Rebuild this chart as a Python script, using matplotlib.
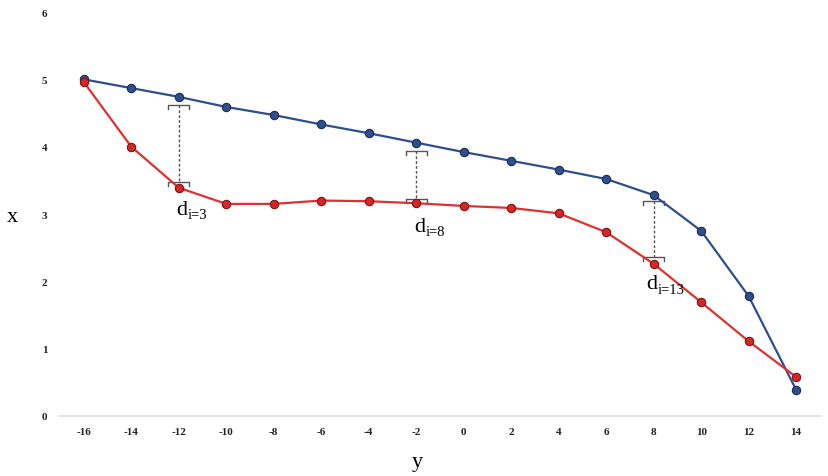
import matplotlib
matplotlib.use("Agg")
import matplotlib.pyplot as plt

y_vals = [-16, -14, -12, -10, -8, -6, -4, -2, 0, 2, 4, 6, 8, 10, 12, 14]
blue = [5.00, 4.87, 4.74, 4.59, 4.47, 4.33, 4.20, 4.06, 3.92, 3.79, 3.66, 3.52, 3.28, 2.75, 1.78, 0.39]
red = [4.96, 4.00, 3.39, 3.15, 3.15, 3.20, 3.19, 3.16, 3.12, 3.09, 3.01, 2.73, 2.26, 1.69, 1.11, 0.58]
yticks = [0, 1, 2, 3, 4, 5, 6]

# distance annotations
d_pos = [-12, -2, 8]
d_top = [4.62, 3.94, 3.19]
d_bot = [3.48, 3.22, 2.36]
d_subs = ['i=3', 'i=8', 'i=13']
d_lx = [-12.1, -2.1, 7.7]
d_ly = [3.00, 2.75, 1.90]

fig = plt.figure(figsize=(8.29, 4.77), dpi=100)
ax = fig.add_axes([0.0724, 0.1258, 0.9166, 0.8469])

ax.plot(y_vals, blue, color='#2E4E8E', lw=1.6, marker='o', markersize=6,
        markerfacecolor='#2E4E8E', markeredgecolor='#1B2B55', markeredgewidth=0.8, zorder=3)
ax.plot(y_vals, red, color='#E03030', lw=1.6, marker='o', markersize=6,
        markerfacecolor='#D82626', markeredgecolor='#7A1414', markeredgewidth=0.8, zorder=3)

hw = 0.44
tk = 0.06
for p, t, b, sub, lx, ly in zip(d_pos, d_top, d_bot, d_subs, d_lx, d_ly):
    ax.plot([p, p], [t, b], color='#555555', lw=1.0, linestyle=(0, (2, 1.5)), zorder=2)
    for yy in (t, b):
        ax.plot([p - hw, p - hw, p + hw, p + hw], [yy - tk, yy, yy, yy - tk],
                color='#555555', lw=1.0, zorder=2)
    ax.text(lx, ly, 'd', family='Liberation Serif', fontsize=16, color='black',
            ha='left', va='baseline')
    ax.annotate(sub, (lx, ly), xytext=(8.2, -3.2), textcoords='offset points',
                family='Liberation Serif', fontsize=10.5, color='black',
                ha='left', va='baseline')

ax.set_xlim(-17, 15)
ax.set_ylim(0, 6)
ax.set_xticks(y_vals)
ax.set_xticklabels([str(v) for v in y_vals])
ax.set_yticks(yticks)
ax.set_yticklabels([str(v) for v in yticks])
for lab in ax.get_xticklabels() + ax.get_yticklabels():
    lab.set_family('Liberation Serif')
    lab.set_fontsize(8)
    lab.set_weight('bold')
    lab.set_color('#222222')
ax.tick_params(axis='both', length=0)
ax.tick_params(axis='x', pad=8)
ax.tick_params(axis='y', pad=9)

for s in ['top', 'right', 'left']:
    ax.spines[s].set_visible(False)
ax.spines['bottom'].set_color('#DDDDDD')
ax.spines['bottom'].set_linewidth(1.2)

fig.text(12 / 829, 1 - 217 / 477, 'x', family='Liberation Serif', fontsize=16,
         ha='center', va='center')
fig.text(417 / 829, 1 - 463 / 477, 'y', family='Liberation Serif', fontsize=16,
         ha='center', va='center')

fig.savefig('out.png', dpi=100)
